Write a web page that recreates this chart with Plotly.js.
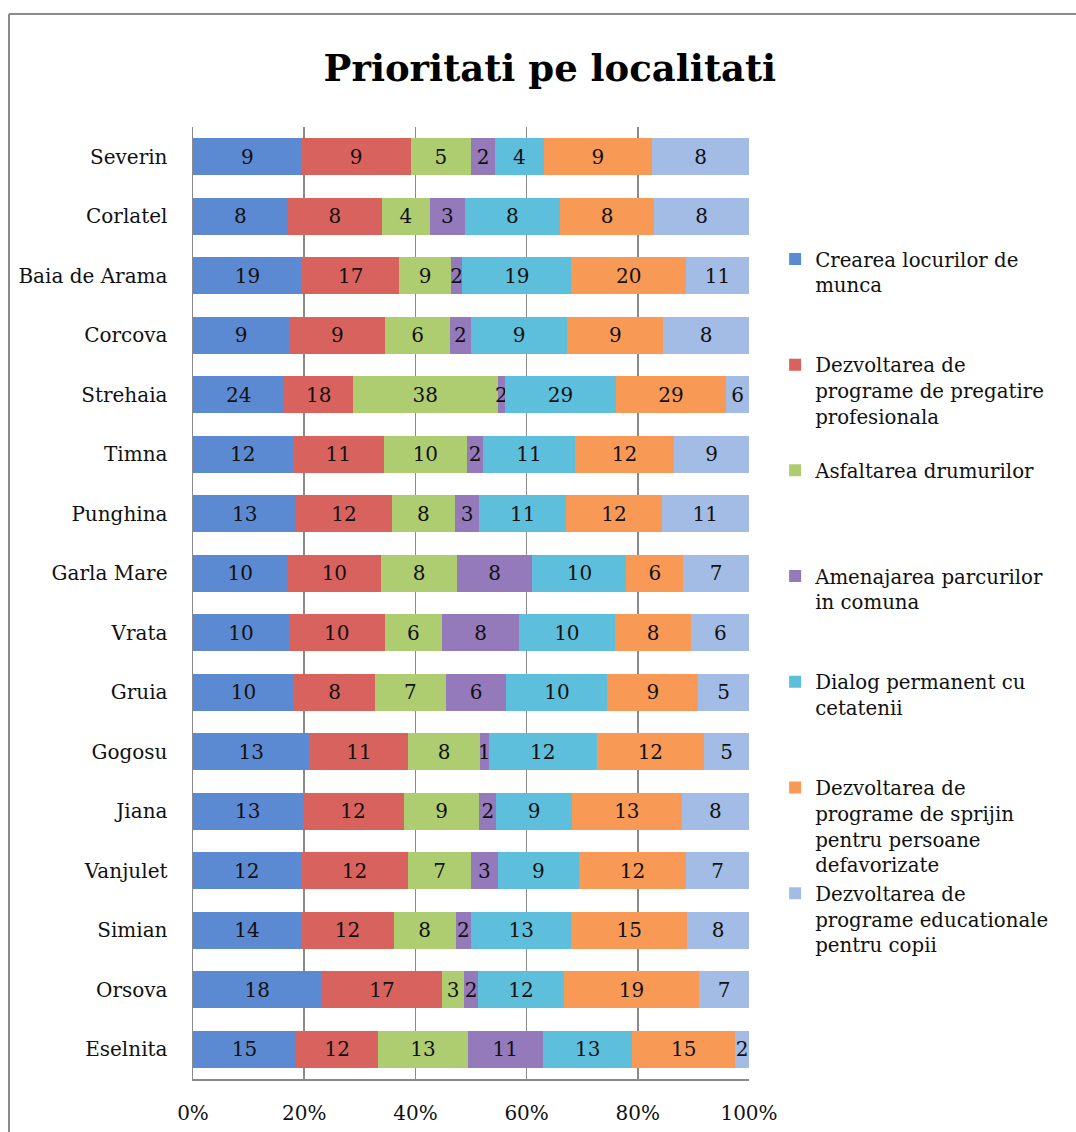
<!DOCTYPE html>
<html>
<head>
<meta charset="utf-8">
<script src="https://cdn.plot.ly/plotly-3.0.1.min.js"></script>
<style>
html,body{margin:0;padding:0;background:#fff;}
#chart{width:1076px;height:1132px;}
</style>
</head>
<body>
<div id="chart"></div>
<script>
// Localities, top to bottom
var localities = ["Severin","Corlatel","Baia de Arama","Corcova","Strehaia","Timna","Punghina","Garla Mare","Vrata","Gruia","Gogosu","Jiana","Vanjulet","Simian","Orsova","Eselnita"];

var seriesNames = [
  "Crearea locurilor de<br>munca",
  "Dezvoltarea de<br>programe de pregatire<br>profesionala",
  "Asfaltarea drumurilor",
  "Amenajarea parcurilor<br>in comuna",
  "Dialog permanent cu<br>cetatenii",
  "Dezvoltarea de<br>programe de sprijin<br>pentru persoane<br>defavorizate",
  "Dezvoltarea de<br>programe educationale<br>pentru copii"
];

var locuriMunca     = [9, 8, 19, 9, 24, 12, 13, 10, 10, 10, 13, 13, 12, 14, 18, 15];
var pregatireProf   = [9, 8, 17, 9, 18, 11, 12, 10, 10, 8, 11, 12, 12, 12, 17, 12];
var asfaltare       = [5, 4, 9, 6, 38, 10, 8, 8, 6, 7, 8, 9, 7, 8, 3, 13];
var parcuri         = [2, 3, 2, 2, 2, 2, 3, 8, 8, 6, 1, 2, 3, 2, 2, 11];
var dialog          = [4, 8, 19, 9, 29, 11, 11, 10, 10, 10, 12, 9, 9, 13, 12, 13];
var sprijin         = [9, 8, 20, 9, 29, 12, 12, 6, 8, 9, 12, 13, 12, 15, 19, 15];
var educationale    = [8, 8, 11, 8, 6, 9, 11, 7, 6, 5, 5, 8, 7, 8, 7, 2];

var xTickVals = [0, 20, 40, 60, 80, 100];

var seriesValues = [locuriMunca, pregatireProf, asfaltare, parcuri, dialog, sprijin, educationale];
var colors = ["#5c8ad2", "#d8625e", "#aecd70", "#9479bb", "#5ebfdc", "#f89a55", "#a2bce6"];

var serif = "DejaVu Serif, Liberation Serif, serif";

function padLines(name) {
  var n = name.split("<br>").length;
  var s = name;
  for (var i = n; i < 4; i++) s += "<br>&nbsp;";
  return s;
}

var traces = seriesValues.map(function (vals, i) {
  return {
    type: "bar",
    orientation: "h",
    name: padLines(seriesNames[i]),
    y: localities,
    x: vals,
    text: vals.map(String),
    texttemplate: "%{text}",
    textposition: "inside",
    insidetextanchor: "middle",
    constraintext: "none",
    cliponaxis: false,
    textfont: {family: serif, size: 20, color: "#111"},
    marker: {color: colors[i], line: {width: 0}},
    hovertemplate: "%{y}: %{text}<extra></extra>"
  };
});

var layout = {
  width: 1076,
  height: 1132,
  margin: {l: 193, r: 327, t: 127, b: 53},
  paper_bgcolor: "#ffffff",
  plot_bgcolor: "#ffffff",
  barmode: "stack",
  barnorm: "percent",
  bargap: 0.38,
  font: {family: serif, size: 20, color: "#111"},
  title: {
    text: "Prioritati pe localitati",
    font: {family: serif, size: 37, color: "#000", weight: "bold"},
    xref: "container", x: 0.511, xanchor: "center",
    yref: "container", y: 0.94, yanchor: "middle"
  },
  xaxis: {
    range: [0, 100.0001],
    tickvals: xTickVals,
    ticktext: xTickVals.map(function (v) { return v + "%"; }),
    showgrid: true,
    gridcolor: "#8a8a8a",
    gridwidth: 1.5,
    zeroline: false,
    showline: true,
    linecolor: "#8a8a8a",
    linewidth: 1.5,
    ticks: "",
    ticklabelstandoff: 15,
    tickfont: {family: serif, size: 20, color: "#111"},
    fixedrange: true
  },
  yaxis: {
    autorange: "reversed",
    showgrid: false,
    zeroline: false,
    showline: true,
    linecolor: "#8a8a8a",
    linewidth: 1.5,
    ticks: "",
    ticklabelstandoff: 20,
    tickfont: {family: serif, size: 20, color: "#111"},
    fixedrange: true
  },
  legend: {
    x: 1.047, xanchor: "left",
    y: 0.8817, yanchor: "top",
    valign: "top",
    traceorder: "normal",
    font: {family: serif, size: 19.75, color: "#111"},
    bgcolor: "rgba(0,0,0,0)",
    itemclick: false,
    itemdoubleclick: false
  },
  shapes: [
    {type: "line", xref: "paper", yref: "paper", x0: -0.3309, x1: -0.3309, y0: 1.1187, y1: -0.2, line: {color: "#8a8a8a", width: 2}},
    {type: "line", xref: "paper", yref: "paper", x0: -0.3309, x1: 1.7, y0: 1.1187, y1: 1.1187, line: {color: "#8a8a8a", width: 2}}
  ]
};

Plotly.newPlot("chart", traces, layout, {displayModeBar: false, staticPlot: true});
</script>
</body>
</html>
